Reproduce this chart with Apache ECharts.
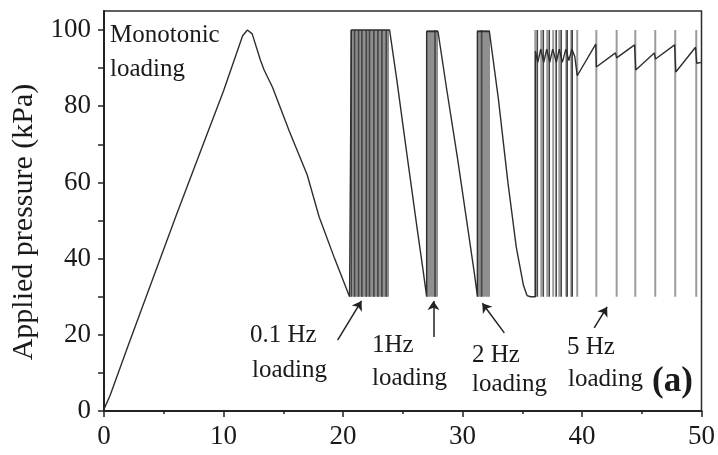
<!DOCTYPE html>
<html>
<head>
<meta charset="utf-8">
<script src="https://cdn.jsdelivr.net/npm/echarts@6/dist/echarts.min.js"></script>
<style>
html,body{margin:0;padding:0;background:#fff}
#main{width:718px;height:455px}
</style>
</head>
<body>
<div id="main"></div>
<script>
// axis ticks
const xTicks = [0, 10, 20, 30, 40, 50];
const yTicks = [0, 20, 40, 60, 80, 100];
const yTickMarks = [0, 10, 20, 30, 40, 50, 60, 70, 80, 90, 100];

// cyclic loading runs between these two pressures
const cycleLow = 30;
const cycleHigh = 100;

// monotonic loading then unloading
const monotonic = [[0, 0.5], [0.5, 4], [2, 17], [4, 34], [6, 51], [8, 67.5], [10, 84], [11.6, 98.5], [12, 100],
  [12.4, 99], [13.1, 92], [13.4, 89.5], [14.1, 85], [15.5, 73.5], [17, 62], [18, 51], [19.3, 40], [20.55, 30]];
// 0.1 Hz block and the unloading after it
const block01 = [[20.7, 30], [20.7, 100], [23.9, 100]];
const unload01 = [[24.5, 87], [25.3, 68.5], [26.2, 48], [26.7, 37], [27.0, 30]];
// 1 Hz
const block1 = [[27.0, 99.6], [27.95, 99.6]];
const unload1 = [[28.7, 84], [29.6, 66], [30.3, 51], [31.0, 36], [31.25, 30]];
// 2 Hz
const block2 = [[31.25, 99.6], [32.25, 99.6]];
const unload2 = [[33.0, 82], [33.8, 60], [34.5, 43], [35.1, 33], [35.4, 30.3], [35.7, 30], [36.1, 30]];
// 5 Hz: wobble on top of the dense part, then sawtooth
const wobble5 = [[36.1, 94.5], [36.3, 91.5], [36.55, 95], [36.8, 91.5], [37.05, 95], [37.3, 91.5], [37.55, 95],
  [37.85, 91.5], [38.1, 95], [38.35, 91.5], [38.65, 95], [38.9, 92], [39.15, 95], [39.4, 93], [39.6, 88]];
const saw5 = [[41.15, 96.3], [41.2, 90.3], [42.8, 94.0], [42.9, 92.7], [44.4, 96.1], [44.5, 89.5], [46.05, 94.0],
  [46.15, 92.4], [47.75, 96.1], [47.85, 89.0], [49.5, 95.5], [49.6, 91.3], [50, 91.5]];

// vertical cycle strokes
const darkCycles = [20.69, 20.97, 21.3, 21.58, 21.95, 22.22, 22.58, 22.92, 23.25, 23.62,
  27.7, 31.6, 36.26, 36.76, 37.26, 37.84, 38.26, 38.76, 39.18];
const lightCycles = [36.09, 36.59, 37.09, 37.59, 38.1, 38.68, 39.1, 39.6, 41.2, 42.9, 44.46, 46.13, 47.8, 49.56];
// grey bands of the fast blocks
const blockRanges = [[20.7, 23.85], [27.0, 27.95], [31.2, 32.3]];

// arrows: [fromX, fromY, toX, toY]
const arrows = [[19.55, 18.6, 21.55, 28.9], [27.57, 19.4, 27.57, 28.9], [33.5, 20.5, 31.66, 28.3], [41.02, 21.8, 42.1, 27.3]];

// annotations: [text, x px, y px]
const notes = [
  ['Monotonic', 110, 35.5], ['loading', 110, 69.5],
  ['0.1 Hz', 250, 335.5], ['loading', 252, 370],
  ['1Hz', 372, 345.5], ['loading', 372, 378.5],
  ['2 Hz', 472, 355.5], ['loading', 472, 384],
  ['5 Hz', 567, 347.5], ['loading', 568, 379]
];

const serif = '"Liberation Serif", "Times New Roman", serif';
const ink = '#1a1a1a';

function strokes(xs) {
  let out = [];
  xs.forEach(function (x) {
    out.push([x, cycleLow], [x, cycleHigh], [x, '-']);
  });
  return out;
}

const trace = [].concat(monotonic, block01, unload01, block1, unload1, block2, unload2, wobble5, saw5);

let myChart = echarts.init(document.getElementById('main'));

let option = {
  animation: false,
  grid: {
    left: 104, right: 16, top: 11, bottom: 44,
    show: true, borderColor: '#2b2b2b', borderWidth: 1.5
  },
  xAxis: {
    type: 'value', min: 0, max: 50, interval: 10,
    axisLine: {lineStyle: {color: '#222', width: 2}},
    axisTick: {length: 6, lineStyle: {color: '#222', width: 1.5}},
    minorTick: {show: true, splitNumber: 2, length: 3, lineStyle: {color: '#222', width: 1.5}},
    splitLine: {show: false},
    axisLabel: {customValues: xTicks, fontFamily: serif, fontSize: 27, color: ink, margin: 12}
  },
  yAxis: {
    type: 'value', min: 0, max: 105,
    axisLine: {show: true, lineStyle: {color: '#222', width: 2}},
    axisTick: {show: true, customValues: yTickMarks, length: 6, lineStyle: {color: '#222', width: 1.5}},
    splitLine: {show: false},
    axisLabel: {customValues: yTicks, fontFamily: serif, fontSize: 27, color: ink, margin: 13},
    name: 'Applied pressure (kPa)',
    nameLocation: 'middle',
    nameGap: 64,
    nameTextStyle: {fontFamily: serif, fontSize: 30, color: ink, padding: [0, 22, 0, 0]}
  },
  series: [
    {
      type: 'line', data: strokes(lightCycles), symbol: 'none', connectNulls: false, z: 2,
      lineStyle: {color: '#9c9c9c', width: 2},
      markArea: {
        silent: true,
        itemStyle: {color: '#8f8f8f'},
        data: blockRanges.map(function (r) {
          return [{xAxis: r[0], yAxis: cycleLow}, {xAxis: r[1], yAxis: cycleHigh}];
        })
      }
    },
    {
      type: 'line', data: strokes(darkCycles), symbol: 'none', connectNulls: false, z: 3,
      lineStyle: {color: '#454545', width: 1.6}
    },
    {
      type: 'line', data: trace, symbol: 'none', z: 4,
      lineStyle: {color: '#2e2e2e', width: 1.4},
      markLine: {
        silent: true,
        symbol: ['none', 'arrow'],
        symbolSize: 9,
        label: {show: false},
        lineStyle: {color: '#222', width: 1.5, type: 'solid'},
        data: arrows.map(function (a) {
          return [{coord: [a[0], a[1]]}, {coord: [a[2], a[3]]}];
        })
      }
    }
  ],
  graphic: notes.map(function (n) {
    return {
      type: 'text', x: n[1], y: n[2], silent: true,
      style: {text: n[0], font: '25px ' + serif, fill: ink, align: 'left', verticalAlign: 'middle',
        textAlign: 'left', textVerticalAlign: 'middle'}
    };
  }).concat([{
    type: 'text', x: 652, y: 381.5, silent: true,
    style: {text: '(a)', font: 'bold 35px ' + serif, fill: ink, align: 'left', verticalAlign: 'middle',
      textAlign: 'left', textVerticalAlign: 'middle'}
  }])
};
myChart.setOption(option);
</script>
</body>
</html>
